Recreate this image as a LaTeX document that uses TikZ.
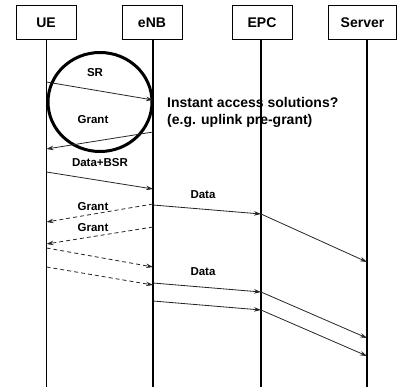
\documentclass[tikz,border=0pt]{standalone}
\usepackage{fontspec}
\setmainfont{Liberation Sans}
\usetikzlibrary{arrows.meta,shapes.geometric}
\begin{document}
\begin{tikzpicture}[x=1pt,y=-1pt,
  entity/.style={draw,line width=1pt,minimum width=60pt,minimum height=34pt,inner sep=0pt,font=\fontsize{14}{16}\selectfont\bfseries},
  life/.style={line width=1.2pt},
  msg/.style={line width=0.8pt,draw=black!85,-{Stealth[length=7pt,width=4.5pt]}},
  dmsg/.style={msg,dash pattern=on 4pt off 3pt},
  lbl/.style={font=\fontsize{11.5}{13}\selectfont\bfseries,inner sep=0pt},
  note/.style={font=\fontsize{14}{17}\selectfont\bfseries,align=left,inner sep=0pt,anchor=west}]
\useasboundingbox (0,0) rectangle (400,390);
% entities
\node[entity] (ue) at (46,22.5) {UE};
\node[entity] (enb) at (152,22.5) {eNB};
\node[entity] (epc) at (262,22.5) {EPC};
\node[entity,minimum width=68pt] (srv) at (362.5,22.5) {Server};
% lifeline ends
\coordinate (ueE) at (46.5,387);
\coordinate (enbE) at (153,387);
\coordinate (epcE) at (261,387);
\coordinate (srvE) at (367,387);
\draw[life] (ue.south -| ueE) -- (ueE);
\draw[life] (enb.south -| enbE) -- (enbE);
\draw[life] (epc.south -| epcE) -- (epcE);
\draw[life] (srv.south -| srvE) -- (srvE);
% circle
\node[draw,line width=3pt,ellipse,minimum width=104pt,minimum height=99pt,inner sep=0pt] (circ) at (100,102) {};
% SR / Grant in circle
\coordinate (a1) at (46.5,82); \coordinate (b1) at (153,100);
\draw[msg] (a1) -- (b1);
\node[lbl] (sr) at (95,73) {SR};
\coordinate (b2) at (153,132); \coordinate (a2) at (46.5,149);
\draw[msg] (b2) -- (a2);
\node[lbl] (g1) at (93,120) {Grant};
\node[note] (inst) at (167,112) {Instant access solutions?\\(e.g. uplink pre-grant)};
% Data+BSR
\coordinate (a3) at (46.5,172); \coordinate (b3) at (153,189);
\draw[msg] (a3) -- (b3);
\node[lbl] (dbsr) at (100,163) {Data+BSR};
% Data 1
\coordinate (b4) at (153,205); \coordinate (c4) at (261,214); \coordinate (d4) at (367,262);
\draw[msg] (b4) -- (c4);
\draw[msg] (c4) -- (d4);
\node[lbl] (data1) at (203,195) {Data};
% grants dashed
\coordinate (b5) at (153,204); \coordinate (a5) at (46.5,222);
\draw[dmsg] (b5) -- (a5);
\node[lbl] (g2) at (93,207) {Grant};
\coordinate (b6) at (153,227); \coordinate (a6) at (46.5,244);
\draw[dmsg] (b6) -- (a6);
\node[lbl] (g3) at (93,228) {Grant};
% dashed uplink
\coordinate (a7) at (46.5,248); \coordinate (b7) at (153,267);
\draw[dmsg] (a7) -- (b7);
\coordinate (a8) at (46.5,267); \coordinate (b8) at (153,285);
\draw[dmsg] (a8) -- (b8);
% Data 2
\node[lbl] (data2) at (203,272) {Data};
\coordinate (b9) at (153,283); \coordinate (c9) at (261,292); \coordinate (d9) at (367,338);
\draw[msg] (b9) -- (c9);
\draw[msg] (c9) -- (d9);
\coordinate (b10) at (153,301); \coordinate (c10) at (261,310); \coordinate (d10) at (367,356);
\draw[msg] (b10) -- (c10);
\draw[msg] (c10) -- (d10);
\end{tikzpicture}
\end{document}
